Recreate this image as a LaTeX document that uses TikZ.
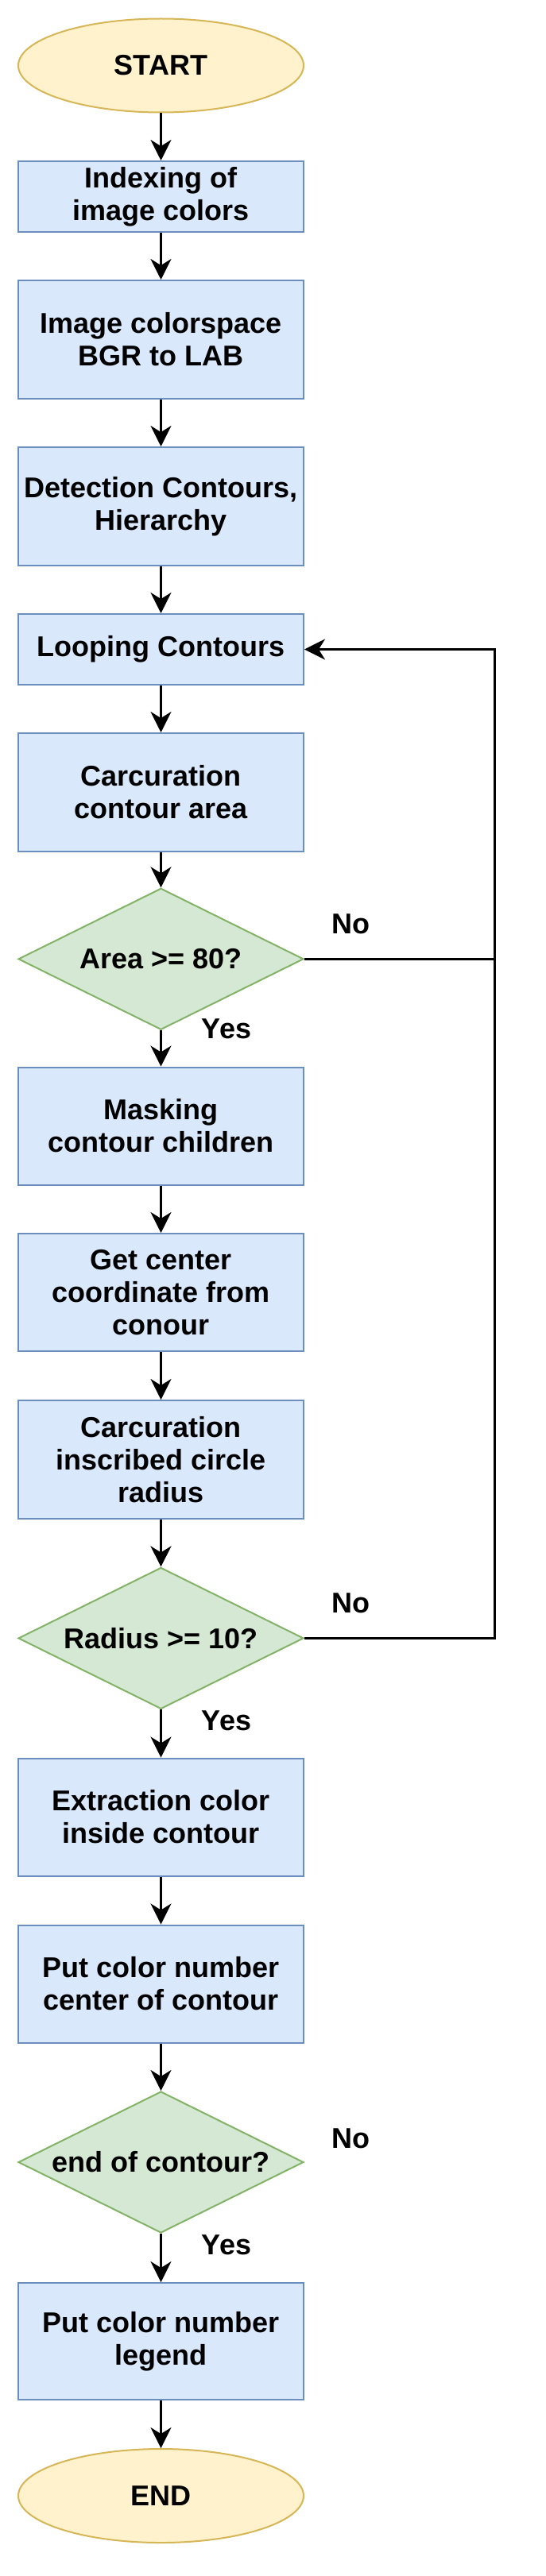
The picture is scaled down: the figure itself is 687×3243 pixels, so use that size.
\documentclass[tikz,border=0pt]{standalone}
\usepackage{fontspec}
\setmainfont{Liberation Sans}
\usetikzlibrary{shapes.geometric,arrows.meta}
\definecolor{blueF}{HTML}{DAE8FC}
\definecolor{blueS}{HTML}{6C8EBF}
\definecolor{greenF}{HTML}{D5E8D4}
\definecolor{greenS}{HTML}{82B366}
\definecolor{yelF}{HTML}{FFF2CC}
\definecolor{yelS}{HTML}{D6B656}
\begin{document}
\begin{tikzpicture}[x=1pt,y=-1pt,
  every node/.style={font=\fontsize{36}{41}\selectfont\bfseries},
  proc/.style={draw=blueS, fill=blueF, line width=2pt, minimum width=359pt, align=center, inner sep=0pt},
  term/.style={ellipse, draw=yelS, fill=yelF, line width=2pt, minimum width=359pt, minimum height=118pt, inner sep=0pt},
  decis/.style={diamond, aspect=2, draw=greenS, fill=greenF, line width=2pt, minimum width=359pt, minimum height=178pt, inner sep=0pt},
  conn/.style={line width=3pt, -{Stealth[length=26pt,width=26pt,inset=8pt]}},
  plain/.style={line width=3pt},
  lbl/.style={inner sep=0pt}
]
\useasboundingbox (0,0) rectangle (687,3243);
\node[term] (start) at (202.5,82.5) {START};
\node[proc, minimum height=89pt] (b1) at (202.5,247.5) {Indexing of\\image colors};
\node[proc, minimum height=149pt] (b2) at (202.5,427.5) {Image colorspace\\BGR to LAB};
\node[proc, minimum height=149pt] (b3) at (202.5,637.5) {Detection Contours,\\Hierarchy};
\node[proc, minimum height=89pt] (b4) at (202.5,817.5) {Looping Contours};
\node[proc, minimum height=149pt] (b5) at (202.5,997.5) {Carcuration\\contour area};
\node[decis] (d1) at (202.5,1207.3) {Area >= 80?};
\node[proc, minimum height=148pt] (b6) at (202.5,1417.5) {Masking\\contour children};
\node[proc, minimum height=148pt] (b7) at (202.5,1627) {Get center\\coordinate from\\conour};
\node[proc, minimum height=149pt] (b8) at (202.5,1837.5) {Carcuration\\inscribed circle\\radius};
\node[decis] (d2) at (202.5,2062.4) {Radius >= 10?};
\node[proc, minimum height=148pt] (b9) at (202.5,2287.5) {Extraction color\\inside contour};
\node[proc, minimum height=148pt] (b10) at (202.5,2497.5) {Put color number\\center of contour};
\node[decis] (d3) at (202.5,2722) {end of contour?};
\node[proc, minimum height=147pt] (b11) at (202.5,2947.5) {Put color number\\legend};
\node[term] (end) at (202.5,3142) {END};

\coordinate (loopx) at (622.5,0);

\draw[conn] (start) -- (b1);
\draw[conn] (b1) -- (b2);
\draw[conn] (b2) -- (b3);
\draw[conn] (b3) -- (b4);
\draw[conn] (b4) -- (b5);
\draw[conn] (b5) -- (d1);
\draw[conn] (d1) -- (b6);
\draw[conn] (b6) -- (b7);
\draw[conn] (b7) -- (b8);
\draw[conn] (b8) -- (d2);
\draw[conn] (d2) -- (b9);
\draw[conn] (b9) -- (b10);
\draw[conn] (b10) -- (d3);
\draw[conn] (d3) -- (b11);
\draw[conn] (b11) -- (end);

\draw[conn] (d2.east) -- (d2.east -| loopx) |- (b4.east);
\draw[plain] (d1.east) -- (d1.east -| loopx);

\node[lbl] (no1) at (441,1163.5) {No};
\node[lbl] (no2) at (441,2018.5) {No};
\node[lbl] (no3) at (441,2692) {No};
\node[lbl] (yes1) at (285,1295) {Yes};
\node[lbl] (yes2) at (285,2166) {Yes};
\node[lbl] (yes3) at (285,2826) {Yes};
\end{tikzpicture}
\end{document}
